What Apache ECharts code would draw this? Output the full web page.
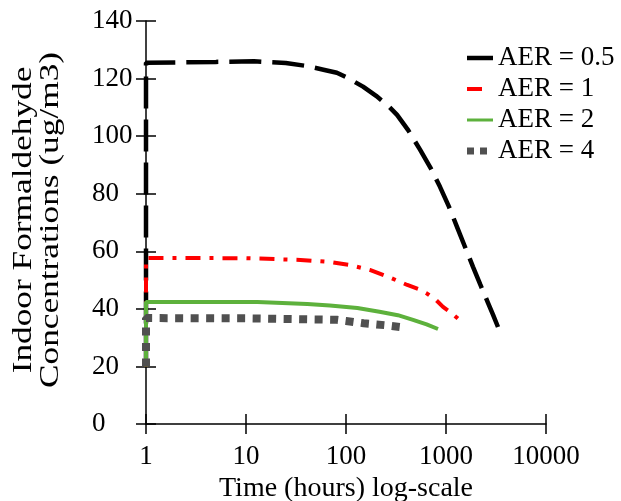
<!DOCTYPE html>
<html>
<head>
<meta charset="utf-8">
<script src="https://cdn.jsdelivr.net/npm/echarts@6/dist/echarts.min.js"></script>
<style>html,body{margin:0;padding:0;background:#fff}#c{width:621px;height:501px}</style>
</head>
<body>
<div id="c"></div>
<script>
// ---- data ----
const seriesNames = ['AER = 0.5', 'AER = 1', 'AER = 2', 'AER = 4'];

const timeAER05 = [1, 1, 5, 12, 25, 40, 61, 81, 100, 120, 148, 200, 260, 324, 420, 550, 700, 871, 1070, 1288, 1550, 1862, 2200, 2630, 2950, 3311];
const concAER05 = [20, 125.5, 125.8, 126, 125.4, 124.4, 123, 122, 120.5, 119, 117.2, 114, 110.8, 107.4, 102, 95.3, 89, 82.4, 75.5, 68.5, 61.5, 54.6, 48.5, 42.1, 38, 33.7];

const timeAER1 = [1, 1, 10, 35, 69, 110, 173, 270, 410, 530, 646, 800, 933, 1150, 1380];
const concAER1 = [20, 57.7, 57.6, 57, 56.3, 55.2, 53.5, 51, 48.3, 46.9, 45.3, 43, 40.7, 38.4, 36];

const timeAER2 = [1, 1, 13, 41, 69, 130, 216, 330, 468, 640, 832];
const concAER2 = [20, 42.4, 42.4, 41.7, 41.2, 40.3, 39, 37.8, 36.2, 34.6, 33];

const timeAER4 = [1, 1, 10, 81, 100, 150, 250, 347, 380];
const concAER4 = [20, 36.8, 36.7, 36.2, 35.8, 35, 34.3, 33.7, 33.5];

const xTickLabels = ['1', '10', '100', '1000', '10000'];
const yTickLabels = ['0', '20', '40', '60', '80', '100', '120', '140'];

const xTitle = 'Time (hours) log-scale';
const yTitle = 'Indoor Formaldehyde\nConcentrations (ug/m3)';

// ---- build ----
function pairs(t, v) { return t.map((x, i) => [x, v[i]]); }
const FONT = 'Liberation Serif';

const styles = [
  { color: '#000000', width: 4.5, dash: [32, 11], icon: 'path://M0,0 M26,14 M0,4.75 H26 V9.25 H0 Z' },
  { color: '#ff0000', width: 4, dash: [15, 9, 4, 9], icon: 'path://M0,0 M26,14 M0,5 H15 V9 H0 Z' },
  { color: '#5db13c', width: 4, dash: 'solid', icon: 'path://M0,0 M26,14 M0,5.5 H26 V8.5 H0 Z' },
  { color: '#505050', width: 8, dash: [8, 7.5], icon: 'path://M0,0 M26,14 M0,3.5 H7 V10.5 H0 Z M13,3.5 H20 V10.5 H13 Z' }
];
const datasets = [pairs(timeAER05, concAER05), pairs(timeAER1, concAER1), pairs(timeAER2, concAER2), pairs(timeAER4, concAER4)];

const chart = echarts.init(document.getElementById('c'), null, { renderer: 'canvas' });

const xCommon = {
  type: 'log', logBase: 10, min: 1, max: 10000, gridIndex: 0,
  splitLine: { show: false }, minorTick: { show: false }
};
const yCommon = {
  type: 'value', min: 0, max: 140, interval: 20, gridIndex: 0,
  splitLine: { show: false }
};

chart.setOption({
  animation: false,
  backgroundColor: '#ffffff',
  textStyle: { fontFamily: FONT, color: '#000' },
  grid: { left: 146, right: 75, top: 21, bottom: 77, containLabel: false, outerBoundsMode: 'none' },
  xAxis: [
    Object.assign({}, xCommon, {
      position: 'bottom',
      axisLine: { show: true, lineStyle: { color: '#000', width: 1.5 } },
      axisTick: { show: true, length: 10, lineStyle: { color: '#000', width: 1.5 } },
      axisLabel: {
        color: '#000', fontFamily: FONT, fontSize: 27, margin: 19,
        formatter: v => xTickLabels[Math.round(Math.log10(v))]
      },
      name: xTitle, nameLocation: 'middle', nameGap: 50,
      nameTextStyle: { color: '#000', fontFamily: FONT, fontSize: 28 }
    }),
    Object.assign({}, xCommon, {
      position: 'bottom',
      axisLine: { show: false },
      axisTick: { show: true, inside: true, length: 10, lineStyle: { color: '#000', width: 1.5 } },
      axisLabel: { show: false }
    })
  ],
  yAxis: [
    Object.assign({}, yCommon, {
      position: 'left',
      axisLine: { show: true, lineStyle: { color: '#000', width: 1.5 } },
      axisTick: { show: true, length: 10, lineStyle: { color: '#000', width: 1.5 } },
      axisLabel: {
        color: '#000', fontFamily: FONT, fontSize: 27, margin: 54, align: 'left',
        padding: [8, 0, 0, 0],
        formatter: v => yTickLabels[Math.round(v / 20)]
      }
    }),
    Object.assign({}, yCommon, {
      position: 'left',
      axisLine: { show: false },
      axisTick: { show: true, inside: true, length: 10, lineStyle: { color: '#000', width: 1.5 } },
      axisLabel: { show: false }
    })
  ],
  legend: {
    orient: 'vertical', left: 467, top: 44, padding: 0,
    itemWidth: 26, itemHeight: 14, itemGap: 3,
    textStyle: { color: '#000', fontFamily: FONT, fontSize: 27, lineHeight: 28 },
    data: seriesNames.map((n, i) => ({ name: n, icon: styles[i].icon, itemStyle: { color: styles[i].color, borderWidth: 0 } }))
  },
  graphic: [{
    type: 'text', x: 37, y: 220, rotation: Math.PI / 2, scaleX: 1.26,
    style: {
      text: yTitle, font: '28px "Liberation Serif"', fill: '#000',
      align: 'center', verticalAlign: 'middle', lineHeight: 27
    }
  }],
  series: seriesNames.map((name, i) => ({
    name: name, type: 'line', xAxisIndex: 0, yAxisIndex: 0,
    data: datasets[i], symbol: 'none', smooth: false,
    lineStyle: { color: styles[i].color, width: styles[i].width, type: styles[i].dash, cap: 'butt' },
    itemStyle: { color: styles[i].color }
  }))
});
</script>
</body>
</html>
